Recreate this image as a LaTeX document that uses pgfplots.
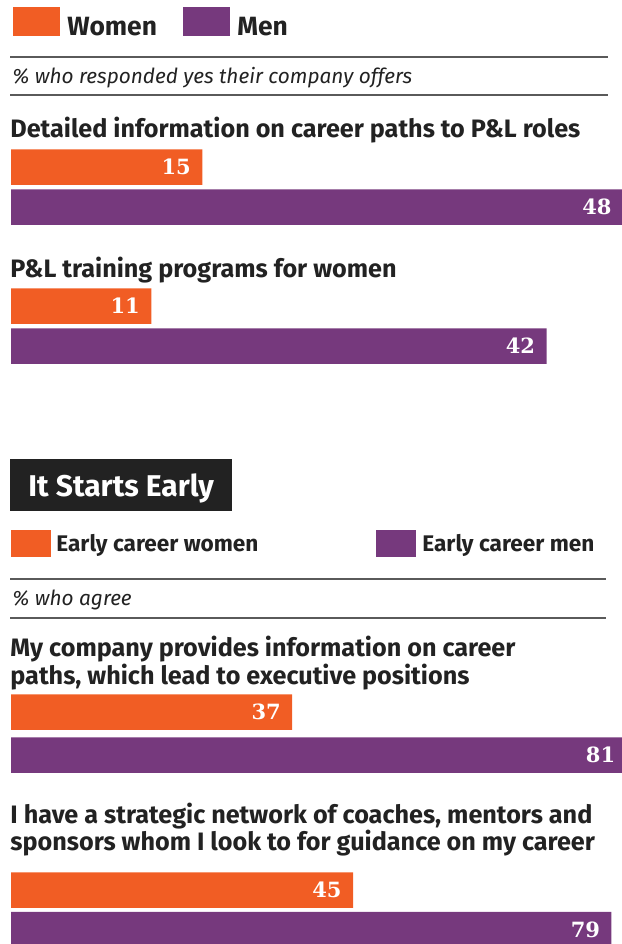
\documentclass[border=0pt]{standalone}
\usepackage{fontspec}
\usepackage{pgfplots}
\pgfplotsset{compat=1.18}
\newfontfamily\fira{Fira Sans}
\newfontfamily\numf{DejaVu Serif}
\definecolor{wom}{HTML}{F15D24}
\definecolor{men}{HTML}{76397D}
\definecolor{ink}{HTML}{222222}
\definecolor{rule}{HTML}{5A5A5A}

\pgfplotsset{
  pbar/.style={
    xbar, bar width=35.5, bar shift=0pt, draw=none,
    point meta=x,
    nodes near coords={\pgfmathprintnumber[assume math mode=true]{\pgfplotspointmeta}},
    every node near coord/.append style={anchor=east, inner sep=0pt, xshift=-5.5pt,
      text=white, font=\numf\bfseries\fontsize{10.5}{12}\selectfont},
  },
  panel/.style={
    anchor=origin, hide axis, clip=false,
    y=0.5pt, y dir=reverse, ymin=0, ymax=944, xmin=0,
    enlargelimits=false,
  },
}

\begin{document}
\begin{tikzpicture}[x=0.5pt, y=-0.5pt]
\useasboundingbox (0,0) rectangle (622,944);

% top panel (one unit = 12.75 px)
\begin{axis}[panel, at={(5.5pt,0pt)}, x=6.375pt, xmax=48]
\addplot[pbar, fill=wom] coordinates {(15,167) (11,306)};
\addplot[pbar, fill=men] coordinates {(48,207) (42,346)};
\end{axis}

% bottom panel (one unit = 7.6 px)
\begin{axis}[panel, at={(5.5pt,0pt)}, x=3.8pt, xmax=81]
\addplot[pbar, fill=wom] coordinates {(37,712) (45,890)};
\addplot[pbar, fill=men] coordinates {(81,755) (79,929.5)};
\end{axis}

\tikzset{hd/.style={anchor=base west, inner sep=0pt, text=ink,
  font=\fira\bfseries\fontsize{12.6}{14}\selectfont},
  sub/.style={anchor=base west, inner sep=0pt, text=ink,
  font=\fira\itshape\fontsize{10.4}{12}\selectfont}}

% legend 1
\fill[wom] (13,7) rectangle (60,36);
\node[hd, font=\fira\bfseries\fontsize{13.2}{15}\selectfont] at (67,35) {Women};
\fill[men] (183,7) rectangle (230,36);
\node[hd, font=\fira\bfseries\fontsize{13.2}{15}\selectfont] at (237,35) {Men};
\draw[rule, line width=0.75pt] (10,57) -- (608,57);
\node[sub] at (12,83) {\% who responded yes their company offers};
\draw[rule, line width=0.75pt] (10,95) -- (608,95);

\node[hd] at (10,137.5) {Detailed information on career paths to P\&L roles};
\node[hd] at (10,277) {P\&L training programs for women};

% second panel header
\fill[ink] (10,459) rectangle (232,511);
\node[hd, text=white, font=\fira\bfseries\fontsize{15}{17}\selectfont] at (28,496) {It Starts Early};
\fill[wom] (11,530) rectangle (51,557);
\node[hd, font=\fira\bfseries\fontsize{11.3}{13}\selectfont] at (56,551) {Early career women};
\fill[men] (376,530) rectangle (416,557);
\node[hd, font=\fira\bfseries\fontsize{11.3}{13}\selectfont] at (422,551) {Early career men};
\draw[rule, line width=0.75pt] (10,579) -- (606,579);
\node[sub] at (12,605.5) {\% who agree};
\draw[rule, line width=0.75pt] (10,618) -- (606,618);

\node[hd] at (10,656.5) {My company provides information on career};
\node[hd] at (10,684) {paths, which lead to executive positions};
\node[hd] at (10,823) {I have a strategic network of coaches, mentors and};
\node[hd] at (10,850) {sponsors whom I look to for guidance on my career};
\end{tikzpicture}
\end{document}
